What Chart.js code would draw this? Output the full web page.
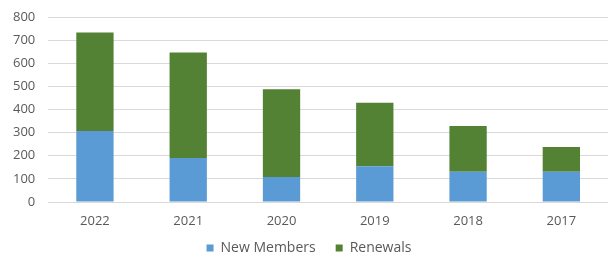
<!DOCTYPE html>
<html>
<head>
<meta charset="utf-8">
<script src="https://cdn.jsdelivr.net/npm/chart.js@4/dist/chart.umd.min.js"></script>
<style>
  html, body { margin: 0; padding: 0; background: #fff; }
  #chart { display: block; }
</style>
</head>
<body>
<canvas id="chart" width="608" height="255"></canvas>
<script>
const years = ["2022", "2021", "2020", "2019", "2018", "2017"];
const newMembers = [307, 190, 108, 155, 131, 131];
const renewals = [426, 456, 380, 274, 198, 107];
const yTicks = [0, 100, 200, 300, 400, 500, 600, 700, 800];

const labelColor = "#595959";
const font = { family: "'Open Sans', sans-serif", size: 13 };

const ctx = document.getElementById("chart").getContext("2d");
new Chart(ctx, {
  type: "bar",
  data: {
    labels: years,
    datasets: [
      {
        label: "New Members",
        data: newMembers,
        backgroundColor: "#5B9BD5",
        barPercentage: 0.4,
        categoryPercentage: 1,
      },
      {
        label: "Renewals",
        data: renewals,
        backgroundColor: "#548235",
        barPercentage: 0.4,
        categoryPercentage: 1,
      },
    ],
  },
  options: {
    responsive: false,
    animation: false,
    layout: { padding: { left: 10, right: 0, top: 17, bottom: -10 } },
    scales: {
      x: {
        stacked: true,
        grid: { display: false, drawTicks: false },
        border: { display: false },
        ticks: { color: labelColor, font: font, padding: 11 },
        afterFit: (axis) => { axis.height -= 11.6; },
      },
      y: {
        stacked: true,
        min: 0,
        max: 800,
        afterBuildTicks: (axis) => {
          axis.ticks = yTicks.map((v) => ({ value: v }));
        },
        // tick padding would otherwise push the plot top down and widen the axis
        afterFit: (axis) => {
          axis.paddingTop = 8;
          axis.paddingBottom = 8;
          axis.width -= 10;
        },
        grid: { color: "#d9d9d9", drawTicks: false },
        border: { display: false },
        ticks: { color: labelColor, font: font, padding: 13 },
      },
    },
    plugins: {
      legend: {
        position: "bottom",
        // empty title with negative padding pulls the items up
        title: { display: true, text: "", font: { size: 1 }, padding: { top: -8.2, bottom: 0 } },
        labels: {
          boxWidth: 7,
          boxHeight: 7,
          color: labelColor,
          font: { family: font.family, size: 14 },
          padding: 20,
        },
      },
      tooltip: { enabled: false },
    },
  },
});
</script>
</body>
</html>
